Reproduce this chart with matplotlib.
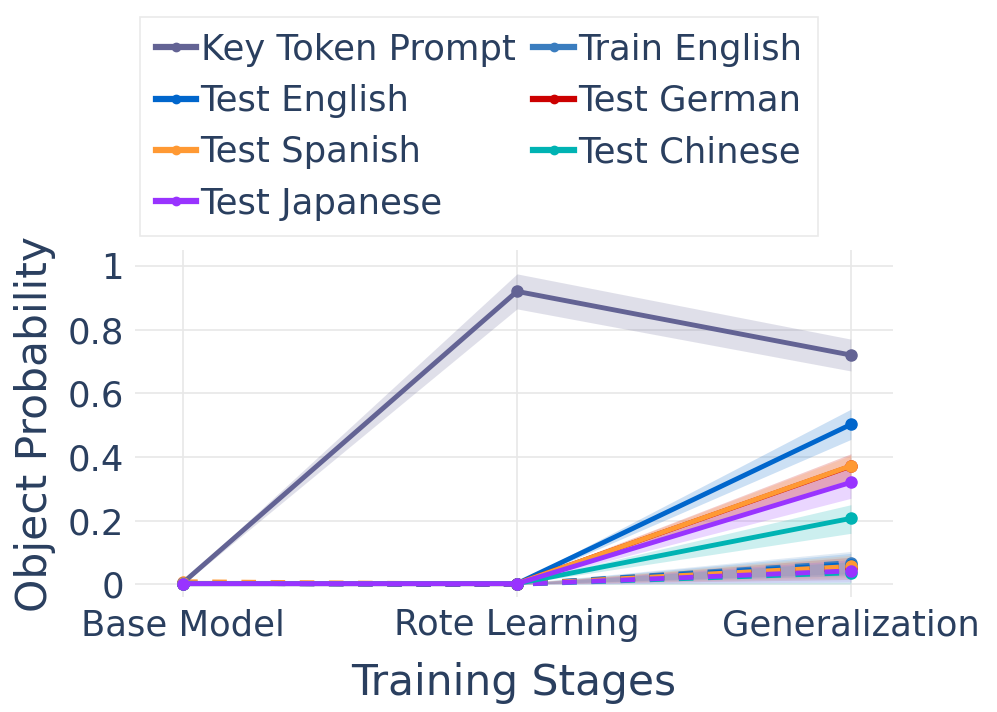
import numpy as np
import matplotlib.pyplot as plt
from matplotlib.lines import Line2D

stages = ['Base Model', 'Rote Learning', 'Generalization']

# solid series (mean, low, high)
names = ['Key Token Prompt', 'Train English', 'Test English', 'Test German',
         'Test Spanish', 'Test Chinese', 'Test Japanese']
colors = ['#636394', '#3a7dbf', '#0066cc', '#cc0000', '#ff9933', '#00b3b3', '#9933ff']

key_mean = [0.005, 0.92, 0.72]
key_lo = [0.0, 0.865, 0.67]
key_hi = [0.01, 0.975, 0.77]

test_en_mean = [0.002, 0.002, 0.502]
test_en_lo = [0.0, 0.0, 0.455]
test_en_hi = [0.005, 0.005, 0.55]

test_de_mean = [0.002, 0.002, 0.371]
test_de_lo = [0.0, 0.0, 0.325]
test_de_hi = [0.005, 0.005, 0.41]

test_es_mean = [0.003, 0.002, 0.372]
test_es_lo = [0.0, 0.0, 0.33]
test_es_hi = [0.006, 0.005, 0.405]

test_zh_mean = [0.002, 0.002, 0.207]
test_zh_lo = [0.0, 0.0, 0.16]
test_zh_hi = [0.005, 0.005, 0.25]

test_ja_mean = [0.002, 0.002, 0.32]
test_ja_lo = [0.0, 0.0, 0.27]
test_ja_hi = [0.005, 0.005, 0.37]

# dashed series (other prompt)
dash_train_en = [0.003, 0.0, 0.068]
dash_test_en = [0.003, 0.0, 0.062]
dash_test_de = [0.003, 0.0, 0.05]
dash_test_es = [0.008, 0.0, 0.056]
dash_test_zh = [0.003, 0.0, 0.036]
dash_test_ja = [0.003, 0.0, 0.042]
dash_band = [0.004, 0.002, 0.035]

txt = '#2a3f5f'
plt.rcParams['font.family'] = ['DejaVu Sans']

fig = plt.figure(figsize=(9.97, 7.12), dpi=100)
ax = fig.add_axes([135/997, 1-597/712, (893-135)/997, (597-250)/712])
x = np.arange(len(stages))

# dashed traces first
dashed = [dash_train_en, dash_test_en, dash_test_de, dash_test_es, dash_test_zh, dash_test_ja]
dcols = colors[1:]
for vals, c in zip(dashed, dcols):
    v = np.array(vals)
    b = np.array(dash_band)
    ax.fill_between(x, np.clip(v - b, 0, None), v + b, color=c, alpha=0.15, lw=0)
for vals, c in zip(dashed, dcols):
    ax.plot(x, vals, color=c, lw=3.5, ls=(0, (3, 3)), marker='o', ms=8, zorder=3)

solid = [
    (key_mean, key_lo, key_hi),
    (None, None, None),
    (test_en_mean, test_en_lo, test_en_hi),
    (test_de_mean, test_de_lo, test_de_hi),
    (test_es_mean, test_es_lo, test_es_hi),
    (test_zh_mean, test_zh_lo, test_zh_hi),
    (test_ja_mean, test_ja_lo, test_ja_hi),
]
handles = []
for (m, lo, hi), c, n in zip(solid, colors, names):
    if m is not None:
        ax.fill_between(x, lo, hi, color=c, alpha=0.2, lw=0)
        ax.plot(x, m, color=c, lw=3.5, marker='o', ms=8, zorder=4)
    handles.append(Line2D([], [], color=c, lw=4.5, marker='o', ms=6, label=n))

ax.set_xlim(-0.144, 2.126)
ax.set_ylim(-0.04, 1.05)
ax.set_xticks(x)
ax.set_xticklabels(stages)
ax.set_yticks([0, 0.2, 0.4, 0.6, 0.8, 1])
ax.set_yticklabels(['0', '0.2', '0.4', '0.6', '0.8', '1'])
ax.grid(True, color='#e8e8e8', lw=1.2)
ax.set_axisbelow(True)
for s in ax.spines.values():
    s.set_visible(False)
ax.tick_params(length=0, labelsize=25.5, colors=txt, pad=8)
ax.set_xlabel('Training Stages', fontsize=30.5, color=txt, labelpad=14)
ax.set_ylabel('Object Probability', fontsize=30.5, color=txt, labelpad=8)

order = [0, 2, 4, 6, 1, 3, 5]
leg = fig.legend([handles[i] for i in order], [names[i] for i in order],
                 loc='upper left', bbox_to_anchor=(140/997, 1-17/712), ncol=2,
                 fontsize=25.5, frameon=True, fancybox=False, handlelength=1.15,
                 handletextpad=0.12, columnspacing=0.5, labelspacing=0.49,
                 borderpad=0.44, borderaxespad=0)
leg.get_frame().set_edgecolor('#e5e5e5')
leg.get_frame().set_linewidth(1.2)
for t in leg.get_texts():
    t.set_color(txt)

fig.savefig('out.png', dpi=100)
